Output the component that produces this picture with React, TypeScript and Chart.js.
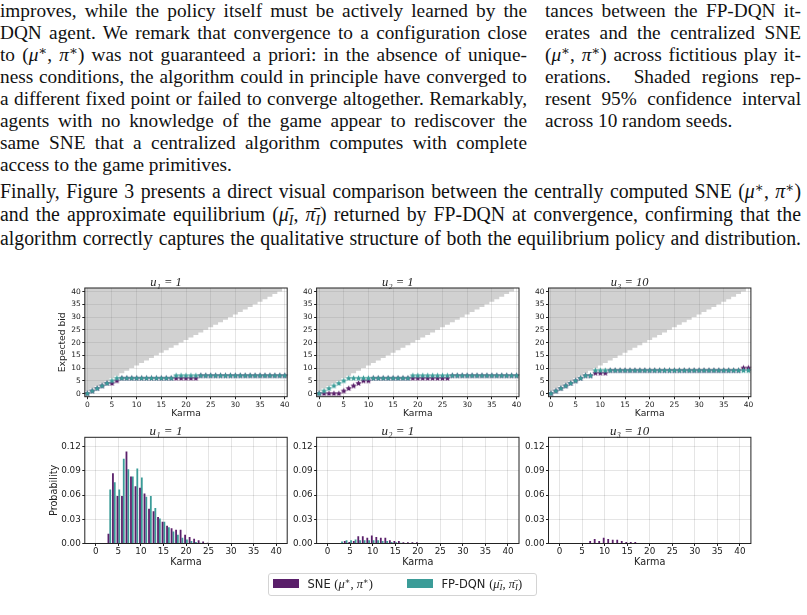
import React, { useEffect, useRef } from "react";
import { Chart, registerables } from "chart.js";

Chart.register(...registerables);

// ---------------- data ----------------
const KARMA = [0, 1, 2, 3, 4, 5, 6, 7, 8, 9, 10, 11, 12, 13, 14, 15, 16, 17, 18, 19, 20, 21, 22, 23, 24, 25, 26, 27, 28, 29, 30, 31, 32, 33, 34, 35, 36, 37, 38, 39, 40];
const KARMA_TICKS = [0, 5, 10, 15, 20, 25, 30, 35, 40];
const BID_TICKS = [0, 5, 10, 15, 20, 25, 30, 35, 40];
const PROB_TICKS = [0, 0.03, 0.06, 0.09, 0.12];
const PANEL_TITLES = ["u\u2081 = 1", "u\u2082 = 1", "u\u2083 = 10"];
const SERIES_LABELS = ["SNE", "FP-DQN"];

// expected bid (policy) per karma level
const SNE_BID_1 = [0, 1, 2, 3, 4, 4, 5, 6, 6, 6, 6, 6, 6, 6, 6, 6, 6, 6, 6, 6, 6, 6, 6, 7, 7, 7, 7, 7, 7, 7, 7, 7, 7, 7, 7, 7, 7, 7, 7, 7, 7];
const FP_BID_1 = [0, 1, 2, 3, 4, 5, 6, 6, 6, 6, 6, 6, 6, 6, 6, 6, 6, 6, 7, 7, 7, 7, 7, 7, 7, 7, 7, 7, 7, 7, 7, 7, 7, 7, 7, 7, 7, 7, 7, 7, 7];
const SNE_BID_2 = [0, 0, 0, 0, 0, 1, 2, 3, 4, 5, 5, 6, 6, 6, 6, 6, 6, 6, 6, 6, 6, 6, 6, 6, 6, 6, 6, 7, 7, 7, 7, 7, 7, 7, 7, 7, 7, 7, 7, 7, 7];
const FP_BID_2 = [0, 1, 2, 3, 4, 5, 6, 6, 6, 6, 6, 6, 6, 6, 6, 6, 6, 6, 6, 7, 7, 7, 7, 7, 7, 7, 7, 7, 7, 7, 7, 7, 7, 7, 7, 7, 7, 7, 7, 7, 7];
const SNE_BID_3 = [0, 1, 2, 3, 4, 5, 6, 7, 7, 8, 8, 8, 9, 9, 9, 9, 9, 9, 9, 9, 9, 9, 9, 9, 9, 9, 9, 9, 9, 9, 9, 9, 9, 9, 9, 9, 9, 9, 9, 10, 10];
const FP_BID_3 = [0, 1, 2, 3, 4, 5, 6, 7, 7, 9, 9, 9, 9, 9, 9, 9, 9, 9, 9, 9, 9, 9, 9, 9, 9, 9, 9, 9, 9, 9, 9, 9, 9, 9, 9, 9, 9, 9, 9, 9, 9];

// karma distribution per karma level
const SNE_PROB_1 = [0, 0, 0, 0.012, 0.087, 0.059, 0.059, 0.114, 0.083, 0.071, 0.069, 0.062, 0.043, 0.04, 0.033, 0.027, 0.022, 0.019, 0.017, 0.017, 0.011, 0.008, 0.006, 0.004, 0.0025, 0.001, 0, 0, 0, 0, 0, 0, 0, 0, 0, 0, 0, 0, 0, 0, 0];
const FP_PROB_1 = [0, 0, 0, 0.067, 0.076, 0.067, 0.105, 0.092, 0.083, 0.093, 0.082, 0.058, 0.059, 0.044, 0.031, 0.027, 0.02, 0.015, 0.011, 0.007, 0.005, 0.003, 0.002, 0.001, 0, 0, 0, 0, 0, 0, 0, 0, 0, 0, 0, 0, 0, 0, 0, 0, 0];
const SNE_PROB_2 = [0, 0, 0, 0.0005, 0.003, 0.002, 0.003, 0.009, 0.009, 0.007, 0.01, 0.008, 0.007, 0.007, 0.004, 0.003, 0.003, 0.0015, 0.0015, 0.0015, 0.0015, 0, 0, 0, 0, 0, 0, 0, 0, 0, 0, 0, 0, 0, 0, 0, 0, 0, 0, 0, 0];
const FP_PROB_2 = [0, 0, 0, 0.0025, 0.004, 0.004, 0.005, 0.004, 0.004, 0.004, 0.004, 0.004, 0.003, 0.003, 0.002, 0.0015, 0.001, 0.0005, 0, 0, 0, 0, 0, 0, 0, 0, 0, 0, 0, 0, 0, 0, 0, 0, 0, 0, 0, 0, 0, 0, 0];
const SNE_PROB_3 = [0, 0, 0, 0, 0, 0, 0, 0.003, 0.0055, 0.003, 0.007, 0.0055, 0.0045, 0.0045, 0.003, 0.002, 0.002, 0.0018, 0, 0, 0, 0, 0, 0, 0, 0, 0, 0, 0, 0, 0, 0, 0, 0, 0, 0, 0, 0, 0, 0, 0];
const FP_PROB_3 = [0, 0, 0, 0, 0, 0, 0, 0.0004, 0.0004, 0.0004, 0.0004, 0.0004, 0.0004, 0.0004, 0.0004, 0.0004, 0.0004, 0, 0, 0, 0, 0, 0, 0, 0, 0, 0, 0, 0, 0, 0, 0, 0, 0, 0, 0, 0, 0, 0, 0, 0];

const BID_SNE = [SNE_BID_1, SNE_BID_2, SNE_BID_3];
const BID_FP = [FP_BID_1, FP_BID_2, FP_BID_3];
const PROB_SNE = [SNE_PROB_1, SNE_PROB_2, SNE_PROB_3];
const PROB_FP = [FP_PROB_1, FP_PROB_2, FP_PROB_3];

// ---------------- style / layout ----------------
const PURPLE = "#5a1f6a";
const TEAL = "#3b9c98";
const SHADE = "rgba(128,128,128,0.36)";
const GRID = "rgba(0,0,0,0.1)";
const INK = "#222";
const SANS = '"DejaVu Sans", sans-serif';
const SERIF = '"Liberation Serif", "DejaVu Serif", serif';

const COL_L = [84.8, 316.6, 548.5];
const COL_R = [287.2, 519.0, 750.9];
const TOP_ROW = { t: 288, b: 396.7 };
const BOT_ROW = { t: 437.3, b: 543.5 };
const Y_W = 40;
const X_H = 26;

const framePlugin = {
  id: "frame",
  afterDatasetsDraw(chart: any) {
    const { ctx, chartArea: a } = chart;
    ctx.save();
    ctx.strokeStyle = INK;
    ctx.lineWidth = 1;
    ctx.strokeRect(a.left, a.top, a.right - a.left, a.bottom - a.top);
    ctx.restore();
  },
};

function makeStar(color: string, r: number) {
  const c = document.createElement("canvas");
  const s = Math.ceil(r * 2 + 2);
  c.width = s;
  c.height = s;
  const ctx = c.getContext("2d")!;
  ctx.fillStyle = color;
  ctx.beginPath();
  for (let i = 0; i < 10; i++) {
    const ang = -Math.PI / 2 + (i * Math.PI) / 5;
    const rr = i % 2 === 0 ? r : r * 0.5;
    ctx.lineTo(s / 2 + rr * Math.cos(ang), s / 2 + rr * Math.sin(ang));
  }
  ctx.closePath();
  ctx.fill();
  return c;
}

function geometry(L: number, R: number, T: number, B: number, titleH: number) {
  const cl = Math.floor(L - Y_W - 6);
  const cr = Math.ceil(R + 8);
  const ct = Math.floor(T - titleH - 6);
  const cb = Math.ceil(B + X_H);
  return {
    left: cl,
    top: ct,
    width: cr - cl,
    height: cb - ct,
    padding: { left: L - Y_W - cl, right: cr - R, top: T - titleH - ct, bottom: cb - B - X_H },
  };
}

function xScale(min: number, max: number, tickSize: number, tickPad: number, titleSize: number, titlePadBottom: number) {
  return {
    type: "linear",
    min,
    max,
    offset: false,
    afterBuildTicks: (s: any) => {
      s.ticks = KARMA_TICKS.map((v) => ({ value: v }));
    },
    afterFit: (s: any) => {
      s.height = X_H;
    },
    grid: { color: GRID, lineWidth: 1, drawTicks: true, tickLength: 2.5, tickColor: INK, tickWidth: 1, offset: false },
    border: { display: false },
    ticks: { font: { family: SANS, size: tickSize }, color: INK, padding: tickPad, maxRotation: 0, autoSkip: false },
    title: { display: true, text: "Karma", font: { family: SANS, size: titleSize }, color: INK, padding: { top: 0, bottom: titlePadBottom } },
  };
}

function yScale(min: number, max: number, ticksArr: number[], digits: number, tickSize: number, title: string | null, titleSize: number, titlePadTop: number) {
  return {
    type: "linear",
    min,
    max,
    afterBuildTicks: (s: any) => {
      s.ticks = ticksArr.map((v) => ({ value: v }));
    },
    afterFit: (s: any) => {
      s.width = Y_W;
    },
    grid: { color: GRID, lineWidth: 1, drawTicks: true, tickLength: 2.5, tickColor: INK, tickWidth: 1 },
    border: { display: false },
    ticks: {
      font: { family: SANS, size: tickSize },
      color: INK,
      padding: 1.5,
      autoSkip: false,
      callback: (v: any) => Number(v).toFixed(digits),
    },
    title: { display: !!title, text: title || "", font: { family: SANS, size: titleSize }, color: INK, padding: { top: titlePadTop, bottom: 0 } },
  };
}

const TOP_TITLE_FONT = { family: SERIF, size: 12.5, style: "italic", weight: "normal", lineHeight: 0.8 };
const BOT_TITLE_FONT = { family: SERIF, size: 13, style: "italic", weight: "normal", lineHeight: 0.92 };

function bidConfig(col: number, padding: any) {
  const starTeal = makeStar(TEAL, 3.2);
  const starPurple = makeStar(PURPLE, 3.2);
  return {
    type: "scatter",
    data: {
      datasets: [
        { label: SERIES_LABELS[1], data: KARMA.map((k, i) => ({ x: k, y: BID_FP[col][i] })), pointStyle: starTeal, pointRadius: 3.2, clip: 6 },
        { label: SERIES_LABELS[0], data: KARMA.map((k, i) => ({ x: k, y: BID_SNE[col][i] })), pointStyle: starPurple, pointRadius: 3.2, clip: 6 },
        {
          type: "line",
          label: "bid > karma",
          data: KARMA.map((k) => ({ x: k - 0.5, y: k })),
          showLine: true,
          stepped: "after",
          fill: "end",
          backgroundColor: SHADE,
          borderWidth: 0,
          pointRadius: 0,
        },
      ],
    },
    options: {
      animation: false,
      responsive: false,
      events: [],
      layout: { padding },
      plugins: {
        legend: { display: false },
        tooltip: { enabled: false },
        title: { display: true, text: PANEL_TITLES[col], font: TOP_TITLE_FONT, color: INK, padding: { top: 0, bottom: 0 } },
      },
      scales: {
        x: xScale(-0.5, 40.5, 7.5, 1, 9.2, 3.2),
        y: yScale(-1.2, 41.4, BID_TICKS, 0, 7.5, col === 0 ? "Expected bid" : null, 9.2, 12),
      },
    },
    plugins: [framePlugin],
  };
}

function probConfig(col: number, padding: any) {
  return {
    type: "bar",
    data: {
      datasets: [
        { label: SERIES_LABELS[0], data: KARMA.map((k, i) => ({ x: k, y: PROB_SNE[col][i] })), backgroundColor: PURPLE, categoryPercentage: 0.8, barPercentage: 1 },
        { label: SERIES_LABELS[1], data: KARMA.map((k, i) => ({ x: k, y: PROB_FP[col][i] })), backgroundColor: TEAL, categoryPercentage: 0.8, barPercentage: 1 },
      ],
    },
    options: {
      animation: false,
      responsive: false,
      events: [],
      layout: { padding },
      plugins: {
        legend: { display: false },
        tooltip: { enabled: false },
        title: { display: true, text: PANEL_TITLES[col], font: BOT_TITLE_FONT, color: INK, padding: { top: 0, bottom: 0 } },
      },
      scales: {
        x: xScale(-2.44, 42.44, 8.8, 0.5, 9.7, 1),
        y: yScale(0, 0.1317, PROB_TICKS, 2, 8.8, col === 0 ? "Probability" : null, 9.7, 3.6),
      },
    },
    plugins: [framePlugin],
  };
}

function Panel({ kind, col }: { kind: "bid" | "prob"; col: number }) {
  const ref = useRef<HTMLCanvasElement | null>(null);
  const row = kind === "bid" ? TOP_ROW : BOT_ROW;
  const titleH = kind === "bid" ? 12.5 * 0.8 : 13 * 0.92;
  const g = geometry(COL_L[col], COL_R[col], row.t, row.b, titleH);
  useEffect(() => {
    const cfg: any = kind === "bid" ? bidConfig(col, g.padding) : probConfig(col, g.padding);
    const chart = new Chart(ref.current as HTMLCanvasElement, cfg);
    return () => chart.destroy();
  }, []);
  return (
    <canvas
      ref={ref}
      width={g.width}
      height={g.height}
      style={{ position: "absolute", left: g.left, top: g.top, width: g.width, height: g.height }}
    />
  );
}

// ---------------- text ----------------
const supStyle: React.CSSProperties = { fontSize: "0.68em", verticalAlign: "0.45em", lineHeight: 0 };
const subStyle: React.CSSProperties = { fontSize: "0.7em", verticalAlign: "-0.25em", lineHeight: 0, fontStyle: "italic" };
const MuPi = () => (
  <span>
    (<i>μ</i>
    <span style={supStyle}>∗</span>, <i>π</i>
    <span style={supStyle}>∗</span>)
  </span>
);
const MuPiBar = () => (
  <span>
    (<i>μ̄</i>
    <span style={subStyle}>I</span>, <i>π̄</i>
    <span style={subStyle}>I</span>)
  </span>
);

function Line({ top, left, width, last, children, scale }: any) {
  const s = scale || 1;
  return (
    <div
      style={{
        position: "absolute",
        top,
        left,
        width: width / s,
        whiteSpace: "nowrap",
        textAlign: last ? "left" : "justify",
        textAlignLast: last ? "left" : "justify",
        transform: s !== 1 ? `scaleX(${s})` : undefined,
        transformOrigin: "left top",
      } as any}
    >
      {children}
    </div>
  );
}

function TextBlocks() {
  const base: React.CSSProperties = {
    position: "absolute",
    left: 0,
    top: 0,
    fontFamily: SERIF,
    fontSize: 19.3,
    lineHeight: "22px",
    color: "#111",
  };
  const LW = 527;
  const RX = 545;
  const RW = 256;
  return (
    <div style={base}>
      <Line top={0} left={0} width={LW}>improves, while the policy itself must be actively learned by the</Line>
      <Line top={22} left={0} width={LW}>DQN agent. We remark that convergence to a configuration close</Line>
      <Line top={44} left={0} width={LW}>
        to <MuPi /> was not guaranteed a priori: in the absence of unique-
      </Line>
      <Line top={66} left={0} width={LW}>ness conditions, the algorithm could in principle have converged to</Line>
      <Line top={88} left={0} width={LW}>a different fixed point or failed to converge altogether. Remarkably,</Line>
      <Line top={110} left={0} width={LW}>agents with no knowledge of the game appear to rediscover the</Line>
      <Line top={132} left={0} width={LW}>same SNE that a centralized algorithm computes with complete</Line>
      <Line top={154} left={0} width={LW} last>access to the game primitives.</Line>

      <Line top={0} left={RX} width={RW}>tances between the FP-DQN it-</Line>
      <Line top={22} left={RX} width={RW}>erates and the centralized SNE</Line>
      <Line top={44} left={RX} width={RW}>
        <MuPi /> across fictitious play it-
      </Line>
      <Line top={66} left={RX} width={RW}>erations.&nbsp; Shaded regions rep-</Line>
      <Line top={88} left={RX} width={RW}>resent 95% confidence interval</Line>
      <Line top={110} left={RX} width={RW} last>across 10 random seeds.</Line>

      <div style={{ position: "absolute", left: 0, top: 0, lineHeight: "23.5px", fontSize: 20.5 }}>
        <Line top={179.5} left={0} width={801} scale={0.965}>
          Finally, Figure 3 presents a direct visual comparison between the centrally computed SNE <MuPi />
        </Line>
        <Line top={203} left={0} width={801} scale={0.965}>
          and the approximate equilibrium <MuPiBar /> returned by FP-DQN at convergence, confirming that the
        </Line>
        <Line top={226.5} left={0} width={801} scale={0.965}>
          algorithm correctly captures the qualitative structure of both the equilibrium policy and distribution.
        </Line>
      </div>
    </div>
  );
}

function Legend() {
  const txt: React.CSSProperties = { position: "absolute", top: 577, fontFamily: SANS, fontSize: 11.5, lineHeight: "14px", color: INK, whiteSpace: "nowrap" };
  const math: React.CSSProperties = { fontFamily: SERIF, fontSize: 12.5 };
  return (
    <>
      <div
        style={{
          position: "absolute",
          left: 268,
          top: 573,
          width: 269,
          height: 23,
          border: "1px solid #d4d4d4",
          borderRadius: 3,
          boxSizing: "border-box",
        }}
      />
      <div style={{ position: "absolute", left: 273, top: 579, width: 25.5, height: 9.3, background: PURPLE }} />
      <div style={{ ...txt, left: 307.5 }}>
        {SERIES_LABELS[0]} <span style={math}><MuPi /></span>
      </div>
      <div style={{ position: "absolute", left: 407, top: 579, width: 25.5, height: 9.3, background: TEAL }} />
      <div style={{ ...txt, left: 441.5 }}>
        {SERIES_LABELS[1]} <span style={math}><MuPiBar /></span>
      </div>
    </>
  );
}

export default function App() {
  return (
    <div style={{ position: "absolute", left: 0, top: 0, width: 807, height: 615, overflow: "hidden", background: "#fff" }}>
      <TextBlocks />
      {[0, 1, 2].map((c) => (
        <Panel key={"b" + c} kind="bid" col={c} />
      ))}
      {[0, 1, 2].map((c) => (
        <Panel key={"p" + c} kind="prob" col={c} />
      ))}
      <Legend />
    </div>
  );
}
